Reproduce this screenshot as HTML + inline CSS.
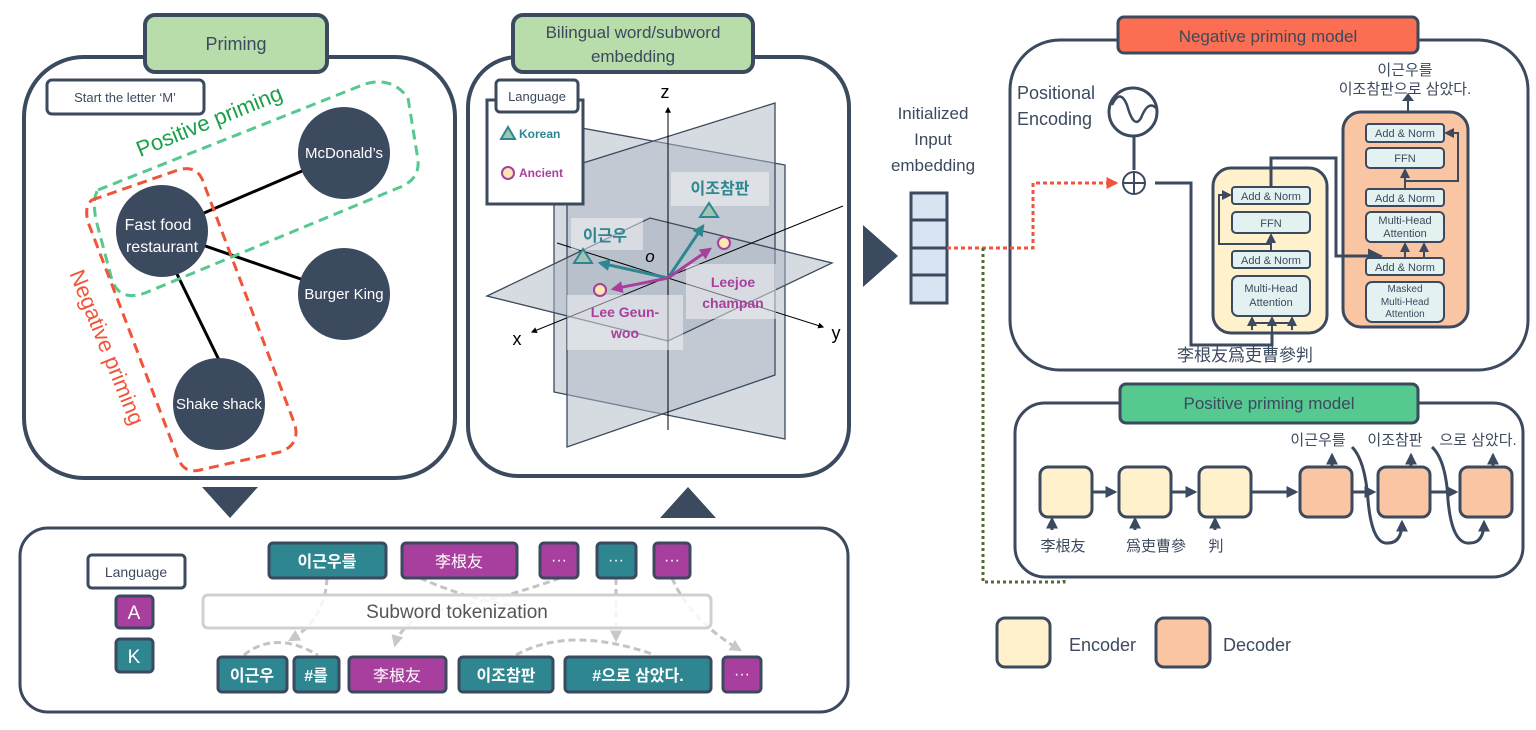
<!DOCTYPE html>
<html><head><meta charset="utf-8"><style>
body{margin:0;background:#fff}
svg{display:block}
text{font-family:"Liberation Sans","Noto Sans CJK KR",sans-serif}
</style></head><body>
<svg width="1536" height="730" viewBox="0 0 1536 730" xmlns="http://www.w3.org/2000/svg">
<defs>
<marker id="ah" viewBox="0 0 10 10" refX="8" refY="5" markerWidth="4" markerHeight="4" orient="auto"><path d="M0,0L10,5L0,10z" fill="#3b4a5e"/></marker>
<marker id="ah2" viewBox="0 0 10 10" refX="8" refY="5" markerWidth="5" markerHeight="5" orient="auto"><path d="M0,0L10,5L0,10z" fill="#3b4a5e"/></marker>
<marker id="at" viewBox="0 0 10 10" refX="8" refY="5" markerWidth="4" markerHeight="4" orient="auto"><path d="M0,0L10,5L0,10z" fill="#2e8690"/></marker>
<marker id="am" viewBox="0 0 10 10" refX="8" refY="5" markerWidth="4" markerHeight="4" orient="auto"><path d="M0,0L10,5L0,10z" fill="#a83f9e"/></marker>
<marker id="ak" viewBox="0 0 10 10" refX="8" refY="5" markerWidth="6" markerHeight="6" orient="auto"><path d="M0,0L10,5L0,10z" fill="#000"/></marker>
<marker id="ar" viewBox="0 0 10 10" refX="8" refY="5" markerWidth="4" markerHeight="4" orient="auto"><path d="M0,0L10,5L0,10z" fill="#f0553a"/></marker>
<marker id="ao" viewBox="0 0 10 10" refX="8" refY="5" markerWidth="4" markerHeight="4" orient="auto"><path d="M0,0L10,5L0,10z" fill="#556b2f"/></marker>
<marker id="ag" viewBox="0 0 10 10" refX="8" refY="5" markerWidth="4" markerHeight="4" orient="auto"><path d="M0,0L10,5L0,10z" fill="#c8c8c8"/></marker>
</defs>

<!-- Priming panel -->
<rect x="24" y="57" width="431" height="421" rx="60" fill="#fff" stroke="#3b4a5e" stroke-width="4"/>
<rect x="145" y="15" width="182" height="57" rx="10" fill="#b9dcab" stroke="#3b4a5e" stroke-width="4"/>
<text x="236" y="50" font-size="18" fill="#3b4a5e" text-anchor="middle">Priming</text>
<rect x="47" y="80" width="157" height="34" rx="5" fill="#fff" stroke="#3b4a5e" stroke-width="3"/>
<text x="125" y="102" font-size="13" fill="#3b4a5e" text-anchor="middle">Start the letter ‘M’</text>
<line x1="162" y1="231" x2="344" y2="153" stroke="#000" stroke-width="3"/>
<line x1="162" y1="231" x2="344" y2="294" stroke="#000" stroke-width="3"/>
<line x1="175" y1="270" x2="219" y2="360" stroke="#000" stroke-width="3"/>
<circle cx="344" cy="153" r="46" fill="#3b4a5e"/>
<circle cx="162" cy="231" r="46" fill="#3b4a5e"/>
<circle cx="344" cy="294" r="46" fill="#3b4a5e"/>
<circle cx="219" cy="404" r="46" fill="#3b4a5e"/>
<text x="344" y="158" font-size="15" fill="#fff" text-anchor="middle">McDonald’s</text>
<text x="158" y="230" font-size="16" fill="#fff" text-anchor="middle">Fast food</text>
<text x="162" y="252" font-size="16" fill="#fff" text-anchor="middle">restaurant</text>
<text x="344" y="299" font-size="15" fill="#fff" text-anchor="middle">Burger King</text>
<text x="219" y="409" font-size="15" fill="#fff" text-anchor="middle">Shake shack</text>
<path d="M98,190 L365,84 Q392,76 408,98 L418,160 Q420,180 398,188 L145,293 Q120,302 112,280 L96,220 Q92,198 98,190Z" fill="none" stroke="#55c98f" stroke-width="3" stroke-dasharray="10,6"/>
<path d="M92,200 L178,170 Q198,164 204,184 L295,425 Q300,445 280,452 L200,470 Q184,474 178,458 L88,222 Q84,206 92,200Z" fill="none" stroke="#f0553a" stroke-width="3" stroke-dasharray="10,6"/>
<text transform="translate(212,128) rotate(-22)" font-size="22" fill="#1aa04a" text-anchor="middle">Positive priming</text>
<text transform="translate(100,350) rotate(68)" font-size="22" fill="#f0553a" text-anchor="middle">Negative priming</text>
<polygon points="202,487 258,487 230,518" fill="#3b4a5e"/>

<!-- Bilingual panel -->
<rect x="468" y="57" width="381" height="419" rx="50" fill="#fff" stroke="#3b4a5e" stroke-width="4"/>
<rect x="513" y="15" width="240" height="57" rx="10" fill="#b9dcab" stroke="#3b4a5e" stroke-width="4"/>
<text x="633" y="38" font-size="17" fill="#3b4a5e" text-anchor="middle">Bilingual word/subword</text>
<text x="633" y="62" font-size="17" fill="#3b4a5e" text-anchor="middle">embedding</text>
<polygon points="554,123 785,165 785,439 554,392" fill="#aeb8c3" fill-opacity="0.5" stroke="#3b4a5e" stroke-width="1.3"/>
<polygon points="567,168 775,103 775,375 567,447" fill="#aeb8c3" fill-opacity="0.5" stroke="#3b4a5e" stroke-width="1.3"/>
<polygon points="487,296 650,218 832,263 668,341" fill="#aeb8c3" fill-opacity="0.5" stroke="#3b4a5e" stroke-width="1.3"/>
<line x1="668" y1="430" x2="668" y2="108" stroke="#000" stroke-width="1" marker-end="url(#ak)"/>
<line x1="557" y1="243" x2="823" y2="327" stroke="#000" stroke-width="1" marker-end="url(#ak)"/>
<line x1="843" y1="206" x2="532" y2="332" stroke="#000" stroke-width="1" marker-end="url(#ak)"/>
<text x="665" y="98" font-size="18" fill="#000" text-anchor="middle">z</text>
<text x="517" y="345" font-size="18" fill="#000" text-anchor="middle">x</text>
<text x="836" y="339" font-size="18" fill="#000" text-anchor="middle">y</text>
<text x="650" y="262" font-size="17" font-style="italic" fill="#000" text-anchor="middle">o</text>
<rect x="571" y="218" width="72" height="32" fill="#fff" fill-opacity="0.45"/>
<rect x="671" y="172" width="98" height="34" fill="#fff" fill-opacity="0.45"/>
<rect x="686" y="264" width="90" height="55" fill="#fff" fill-opacity="0.45"/>
<rect x="567" y="295" width="116" height="55" fill="#fff" fill-opacity="0.45"/>
<line x1="668" y1="278" x2="600" y2="263" stroke="#2e8690" stroke-width="3" marker-end="url(#at)"/>
<line x1="668" y1="278" x2="703" y2="226" stroke="#2e8690" stroke-width="3" marker-end="url(#at)"/>
<line x1="668" y1="278" x2="613" y2="289" stroke="#a83f9e" stroke-width="3" marker-end="url(#am)"/>
<line x1="668" y1="278" x2="710" y2="249" stroke="#a83f9e" stroke-width="3" marker-end="url(#am)"/>
<polygon points="583,249 574,263 592,263" fill="#9fc5b3" stroke="#2e8690" stroke-width="2"/>
<polygon points="709,203 700,217 718,217" fill="#9fc5b3" stroke="#2e8690" stroke-width="2"/>
<circle cx="600" cy="290" r="6" fill="#fde7b0" stroke="#a83f9e" stroke-width="2"/>
<circle cx="724" cy="243" r="6" fill="#fde7b0" stroke="#a83f9e" stroke-width="2"/>
<text x="605" y="241" font-size="16" font-weight="bold" fill="#2e8690" text-anchor="middle">이근우</text>
<text x="720" y="194" font-size="16" font-weight="bold" fill="#2e8690" text-anchor="middle">이조참판</text>
<text x="733" y="287" font-size="14" font-weight="bold" fill="#a83f9e" text-anchor="middle">Leejoe</text>
<text x="733" y="308" font-size="14" font-weight="bold" fill="#a83f9e" text-anchor="middle">champan</text>
<text x="625" y="317" font-size="14" font-weight="bold" fill="#a83f9e" text-anchor="middle">Lee Geun-</text>
<text x="625" y="338" font-size="14" font-weight="bold" fill="#a83f9e" text-anchor="middle">woo</text>
<rect x="487" y="100" width="96" height="104" fill="#fff" stroke="#3b4a5e" stroke-width="3"/>
<rect x="496" y="80" width="82" height="32" rx="4" fill="#fff" stroke="#3b4a5e" stroke-width="3"/>
<text x="537" y="101" font-size="13" fill="#3b4a5e" text-anchor="middle">Language</text>
<polygon points="508,127 501,139 515,139" fill="#9fc5b3" stroke="#2e8690" stroke-width="2"/>
<text x="519" y="138" font-size="12" font-weight="bold" fill="#2e8690">Korean</text>
<circle cx="508" cy="173" r="6" fill="#fde7b0" stroke="#a83f9e" stroke-width="2"/>
<text x="519" y="177" font-size="12" font-weight="bold" fill="#a83f9e">Ancient</text>
<polygon points="660,518 716,518 688,487" fill="#3b4a5e"/>

<!-- Bottom tokenization panel -->
<rect x="20" y="528" width="828" height="184" rx="28" fill="#fff" stroke="#3b4a5e" stroke-width="3"/>
<rect x="88" y="555" width="97" height="33" rx="4" fill="#fff" stroke="#3b4a5e" stroke-width="3"/>
<text x="136" y="577" font-size="14" fill="#3b4a5e" text-anchor="middle">Language</text>
<rect x="116" y="596" width="37" height="32" rx="4" fill="#a83f9e" stroke="#3b4a5e" stroke-width="3"/>
<text x="134" y="619" font-size="19" fill="#fff" text-anchor="middle">A</text>
<rect x="116" y="639" width="37" height="33" rx="4" fill="#2e8690" stroke="#3b4a5e" stroke-width="3"/>
<text x="134" y="663" font-size="19" fill="#fff" text-anchor="middle">K</text>
<g stroke="#c4c4c4" stroke-width="3" fill="none" stroke-dasharray="7,4">
<path d="M327,578 Q325,620 290,640" marker-end="url(#ag)"/>
<path d="M420,578 Q470,600 510,605"/>
<path d="M560,578 Q500,600 430,612 Q400,625 395,645" marker-end="url(#ag)"/>
<path d="M616,578 L616,640" marker-end="url(#ag)"/>
<path d="M672,578 Q690,620 740,650" marker-end="url(#ag)"/>
<path d="M244,655 Q275,630 318,655"/>
<path d="M516,655 Q570,625 655,655"/>
</g>
<rect x="203" y="595" width="508" height="33" rx="5" fill="#fff" fill-opacity="0.85" stroke="#d0d0d0" stroke-width="3"/>
<text x="457" y="618" font-size="19" fill="#555" text-anchor="middle">Subword tokenization</text>
<g stroke="#3b4a5e" stroke-width="3">
<rect x="269" y="543" width="117" height="35" rx="4" fill="#2e8690"/>
<rect x="402" y="543" width="115" height="35" rx="4" fill="#a83f9e"/>
<rect x="540" y="543" width="38" height="35" rx="4" fill="#a83f9e"/>
<rect x="597" y="543" width="39" height="35" rx="4" fill="#2e8690"/>
<rect x="654" y="543" width="36" height="35" rx="4" fill="#a83f9e"/>
<rect x="218" y="657" width="69" height="35" rx="4" fill="#2e8690"/>
<rect x="294" y="657" width="45" height="35" rx="4" fill="#2e8690"/>
<rect x="349" y="657" width="97" height="35" rx="4" fill="#a83f9e"/>
<rect x="459" y="657" width="94" height="35" rx="4" fill="#2e8690"/>
<rect x="565" y="657" width="146" height="35" rx="4" fill="#2e8690"/>
<rect x="723" y="657" width="38" height="35" rx="4" fill="#a83f9e"/>
</g>
<g fill="#fff" font-size="16" text-anchor="middle" font-weight="bold">
<text x="327" y="567">이근우를</text>
<text x="459" y="567" font-weight="normal">李根友</text>
<text x="559" y="565" font-weight="normal">···</text>
<text x="616" y="565" font-weight="normal">···</text>
<text x="672" y="565" font-weight="normal">···</text>
<text x="252" y="681">이근우</text>
<text x="316" y="681">#를</text>
<text x="397" y="681" font-weight="normal">李根友</text>
<text x="506" y="681">이조참판</text>
<text x="638" y="681">#으로 삼았다.</text>
<text x="742" y="679" font-weight="normal">···</text>
</g>

<!-- middle -->
<polygon points="863,225 898,256 863,287" fill="#3b4a5e"/>
<text x="933" y="119" font-size="17" fill="#3b4a5e" text-anchor="middle">Initialized</text>
<text x="933" y="145" font-size="17" fill="#3b4a5e" text-anchor="middle">Input</text>
<text x="933" y="171" font-size="17" fill="#3b4a5e" text-anchor="middle">embedding</text>
<g fill="#d9e4f2" stroke="#3b4a5e" stroke-width="3">
<rect x="911" y="193" width="36" height="27"/><rect x="911" y="220" width="36" height="28"/><rect x="911" y="248" width="36" height="27"/><rect x="911" y="275" width="36" height="28"/>
</g>

<!-- Negative priming model -->
<rect x="1010" y="40" width="518" height="330" rx="50" fill="#fff" stroke="#3b4a5e" stroke-width="3"/>
<rect x="1118" y="17" width="300" height="36" rx="6" fill="#fb6e52" stroke="#3b4a5e" stroke-width="3"/>
<text x="1268" y="42" font-size="17" fill="#3b4a5e" text-anchor="middle">Negative priming model</text>
<text x="1017" y="99" font-size="18" fill="#3b4a5e">Positional</text>
<text x="1017" y="125" font-size="18" fill="#3b4a5e">Encoding</text>
<circle cx="1133" cy="112" r="24" fill="#fff" stroke="#3b4a5e" stroke-width="3"/>
<path d="M1112,105 Q1120,88 1127,105 Q1134,130 1141,118 Q1148,100 1156,108" fill="none" stroke="#3b4a5e" stroke-width="2.5"/>
<line x1="1134" y1="136" x2="1134" y2="170" stroke="#3b4a5e" stroke-width="3"/>
<circle cx="1134" cy="183" r="11" fill="#fff" stroke="#3b4a5e" stroke-width="2"/>
<line x1="1123" y1="183" x2="1145" y2="183" stroke="#3b4a5e" stroke-width="2"/>
<line x1="1134" y1="172" x2="1134" y2="194" stroke="#3b4a5e" stroke-width="2"/>
<path d="M947,248 L1033,248 L1033,183 L1116,183" fill="none" stroke="#f0553a" stroke-width="3" stroke-dasharray="4,3" marker-end="url(#ar)"/>
<path d="M983,248 L983,582 L1064,582 L1064,562" fill="none" stroke="#556b2f" stroke-width="3" stroke-dasharray="3,3" marker-end="url(#ao)"/>
<path d="M1155,183 L1191,183 L1191,345 L1272,345 L1272,333" fill="none" stroke="#3b4a5e" stroke-width="3"/>
<rect x="1213" y="168" width="114" height="165" rx="18" fill="#fff1cc" stroke="#3b4a5e" stroke-width="3"/>
<rect x="1343" y="112" width="125" height="215" rx="18" fill="#f9c5a3" stroke="#3b4a5e" stroke-width="3"/>
<path d="M1271,187 L1271,158 L1336,158 L1336,256 L1380,256" fill="none" stroke="#3b4a5e" stroke-width="3" marker-end="url(#ah2)"/>
<g stroke="#3b4a5e" stroke-width="2" fill="none">
<path d="M1252,330 L1252,322 M1292,330 L1292,322 M1252,323 L1292,323"/>
<line x1="1252" y1="323" x2="1252" y2="318" marker-end="url(#ah2)"/>
<line x1="1272" y1="333" x2="1272" y2="318" marker-end="url(#ah2)"/>
<line x1="1292" y1="323" x2="1292" y2="318" marker-end="url(#ah2)"/>
<line x1="1271" y1="251" x2="1271" y2="235" marker-end="url(#ah2)"/>
<path d="M1271,244 L1219,244 L1219,195 L1230,195" marker-end="url(#ah2)"/>
<line x1="1405" y1="258" x2="1405" y2="244" marker-end="url(#ah2)"/>
<line x1="1424" y1="258" x2="1424" y2="244" marker-end="url(#ah2)"/>
<line x1="1405" y1="189" x2="1405" y2="170" marker-end="url(#ah2)"/>
<path d="M1405,181 L1458,181 L1458,133 L1446,133" marker-end="url(#ah2)"/>
<path d="M1408,112 L1408,100"/>
</g>
<g fill="#e3f2f1" stroke="#3b4a5e" stroke-width="2">
<rect x="1232" y="187" width="78" height="17" rx="3"/>
<rect x="1232" y="212" width="78" height="21" rx="4"/>
<rect x="1232" y="251" width="78" height="17" rx="3"/>
<rect x="1232" y="276" width="78" height="40" rx="6"/>
<rect x="1366" y="124" width="78" height="18" rx="3"/>
<rect x="1366" y="148" width="78" height="20" rx="4"/>
<rect x="1366" y="189" width="78" height="17" rx="3"/>
<rect x="1366" y="212" width="78" height="30" rx="5"/>
<rect x="1366" y="258" width="78" height="17" rx="3"/>
<rect x="1366" y="282" width="78" height="40" rx="6"/>
</g>
<g font-size="11" fill="#3b4a5e" text-anchor="middle">
<text x="1271" y="200">Add &amp; Norm</text>
<text x="1271" y="227">FFN</text>
<text x="1271" y="264">Add &amp; Norm</text>
<text x="1271" y="292">Multi-Head</text>
<text x="1271" y="306">Attention</text>
<text x="1405" y="137">Add &amp; Norm</text>
<text x="1405" y="162">FFN</text>
<text x="1405" y="202">Add &amp; Norm</text>
<text x="1405" y="224">Multi-Head</text>
<text x="1405" y="237">Attention</text>
<text x="1405" y="271">Add &amp; Norm</text>
<text x="1405" y="292" font-size="10">Masked</text>
<text x="1405" y="305" font-size="10">Multi-Head</text>
<text x="1405" y="317" font-size="10">Attention</text>
</g>
<polygon points="1402,101 1414,101 1408,93" fill="#3b4a5e"/>
<text x="1405" y="75" font-size="15" fill="#3b4a5e" text-anchor="middle">이근우를</text>
<text x="1405" y="94" font-size="15" fill="#3b4a5e" text-anchor="middle">이조참판으로 삼았다.</text>
<text x="1245" y="361" font-size="17" fill="#3b4a5e" text-anchor="middle">李根友爲吏曹參判</text>

<!-- Positive priming model -->
<rect x="1015" y="403" width="508" height="174" rx="30" fill="#fff" stroke="#3b4a5e" stroke-width="3"/>
<rect x="1120" y="384" width="298" height="39" rx="6" fill="#55c98f" stroke="#3b4a5e" stroke-width="3"/>
<text x="1269" y="409" font-size="17" fill="#3b4a5e" text-anchor="middle">Positive priming model</text>
<g stroke="#3b4a5e" stroke-width="3" fill="none">
<line x1="1092" y1="492" x2="1115" y2="492" marker-end="url(#ah)"/>
<line x1="1171" y1="492" x2="1195" y2="492" marker-end="url(#ah)"/>
<line x1="1251" y1="492" x2="1296" y2="492" marker-end="url(#ah)"/>
<line x1="1352" y1="492" x2="1374" y2="492" marker-end="url(#ah)"/>
<line x1="1430" y1="492" x2="1456" y2="492" marker-end="url(#ah)"/>
<line x1="1052" y1="530" x2="1052" y2="519" marker-end="url(#ah)"/>
<line x1="1135" y1="530" x2="1135" y2="519" marker-end="url(#ah)"/>
<line x1="1215" y1="530" x2="1215" y2="519" marker-end="url(#ah)"/>
<line x1="1332" y1="466" x2="1332" y2="455" marker-end="url(#ah)"/>
<line x1="1411" y1="466" x2="1411" y2="455" marker-end="url(#ah)"/>
<line x1="1493" y1="466" x2="1493" y2="455" marker-end="url(#ah)"/>
<path d="M1352,447 Q1365,460 1368,500 Q1372,545 1388,543 Q1402,543 1402,522" marker-end="url(#ah)"/>
<path d="M1432,447 Q1446,460 1448,500 Q1452,545 1470,543 Q1484,543 1484,522" marker-end="url(#ah)"/>
</g>
<g stroke="#3b4a5e" stroke-width="3">
<rect x="1040" y="467" width="52" height="50" rx="8" fill="#fff1cc"/>
<rect x="1119" y="467" width="52" height="50" rx="8" fill="#fff1cc"/>
<rect x="1199" y="467" width="52" height="50" rx="8" fill="#fff1cc"/>
<rect x="1300" y="467" width="52" height="50" rx="8" fill="#f9c5a3"/>
<rect x="1378" y="467" width="52" height="50" rx="8" fill="#f9c5a3"/>
<rect x="1460" y="467" width="52" height="50" rx="8" fill="#f9c5a3"/>
</g>
<g font-size="15" fill="#3b4a5e" text-anchor="middle">
<text x="1063" y="551">李根友</text>
<text x="1156" y="551">爲吏曹參</text>
<text x="1216" y="551">判</text>
<text x="1318" y="445">이근우를</text>
<text x="1395" y="445">이조참판</text>
<text x="1478" y="445">으로 삼았다.</text>
</g>

<!-- Legend -->
<rect x="997" y="618" width="53" height="49" rx="8" fill="#fff1cc" stroke="#3b4a5e" stroke-width="3"/>
<text x="1069" y="651" font-size="18" fill="#3b4a5e">Encoder</text>
<rect x="1156" y="618" width="54" height="49" rx="8" fill="#f9c5a3" stroke="#3b4a5e" stroke-width="3"/>
<text x="1223" y="651" font-size="18" fill="#3b4a5e">Decoder</text>
</svg>
</body></html>
